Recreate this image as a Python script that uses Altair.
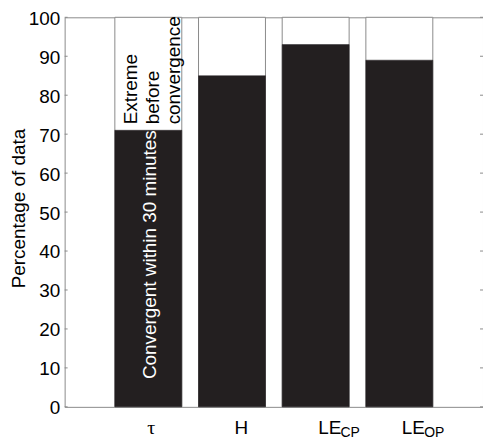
import altair as alt
import pandas as pd

# ---- data ----
categories = ["τ", "H", "LE", "LE"]
subscripts = ["", "", "CP", "OP"]
convergent_pct = [71, 85, 93, 89]
total_pct = [100, 100, 100, 100]
y_ticks = [0, 10, 20, 30, 40, 50, 60, 70, 80, 90, 100]
inside_text = ["Convergent within 30 minutes"]
extreme_lines = ["Extreme", "before", "convergence"]

GREY = "#8a8a8a"
BLACK = "#231f20"
SANS = "Liberation Sans"
FS = 19
W, H = 421, 392

df = pd.DataFrame({
    "idx": [1, 2, 3, 4],
    "cat": categories,
    "sub": subscripts,
    "value": convergent_pct,
    "top": total_pct,
})

xs = alt.Scale(domain=[0, 5], nice=False, zero=False)
ys = alt.Scale(domain=[0, 100], nice=False)

YAX = alt.Axis(
    values=y_ticks,
    title="Percentage of data",
    labelOverlap=False,
    titleX=-40,
    titleY=192,
)

base = alt.Chart(df).transform_calculate(
    x0="datum.idx - 0.4", x1="datum.idx + 0.4"
)

outline = base.mark_bar(fill="white", stroke=GREY, strokeWidth=1).encode(
    x=alt.X("x0:Q", scale=xs, axis=None),
    x2="x1:Q",
    y=alt.Y("top:Q", scale=ys, axis=YAX),
    y2=alt.datum(0),
)

filled = base.mark_bar(fill=BLACK, stroke=BLACK, strokeWidth=0.5).encode(
    x=alt.X("x0:Q", scale=xs, axis=None),
    x2="x1:Q",
    y=alt.Y("value:Q", scale=ys, axis=YAX),
    y2=alt.datum(0),
)

tick_df = pd.DataFrame({"t": y_ticks})
left_ticks = alt.Chart(tick_df).mark_rule(color=GREY, strokeWidth=1).encode(
    y=alt.Y("t:Q", scale=ys, axis=YAX), x=alt.value(0), x2=alt.value(3)
)
right_ticks = alt.Chart(tick_df).mark_rule(color=GREY, strokeWidth=1).encode(
    y=alt.Y("t:Q", scale=ys, axis=YAX), x=alt.value(W - 3), x2=alt.value(W)
)

# annotations inside first bar
first = df[df["idx"] == 1].copy()
first["inside"] = inside_text[0]
first["extreme"] = "\n".join(extreme_lines)
first["zero"] = 0

conv_text = alt.Chart(first).mark_text(
    angle=270, align="left", baseline="alphabetic", font=SANS, fontSize=FS,
    color="white", dx=28, dy=8,
).encode(
    x=alt.X("idx:Q", scale=xs, axis=None),
    y=alt.Y("zero:Q", scale=ys, axis=YAX),
    text="inside:N",
)

extreme_text = alt.Chart(first).mark_text(
    angle=270, align="left", baseline="alphabetic", font=SANS, fontSize=FS,
    color="black", dx=6, dy=-11, lineBreak="\n", lineHeight=21.5,
).encode(
    x=alt.X("idx:Q", scale=xs, axis=None),
    y=alt.Y("value:Q", scale=ys, axis=YAX),
    text="extreme:N",
)

# category labels below the axis (with subscripts)
tau_label = alt.Chart(df[df["idx"] == 1]).mark_text(
    align="left", baseline="alphabetic", font="Liberation Serif", fontSize=FS + 1,
    color="black", dx=-1,
).encode(x=alt.X("idx:Q", scale=xs, axis=None), y=alt.value(H + 27), text="cat:N")

main_labels = alt.Chart(df[df["idx"] > 1]).mark_text(
    align="left", baseline="alphabetic", font=SANS, fontSize=FS,
    color="black", dx=2.5,
).encode(x=alt.X("idx:Q", scale=xs, axis=None), y=alt.value(H + 27), text="cat:N")

sub_labels = alt.Chart(df[df["sub"] != ""]).mark_text(
    align="left", baseline="alphabetic", font=SANS, fontSize=14,
    color="black", dx=25,
).encode(x=alt.X("idx:Q", scale=xs, axis=None), y=alt.value(H + 30.5), text="sub:N")

chart = alt.layer(
    outline, filled, left_ticks, right_ticks, conv_text, extreme_text,
    tau_label, main_labels, sub_labels,
).properties(
    width=W,
    height=H,
    autosize=alt.AutoSizeParams(type="none"),
    padding={"left": 57, "top": 8, "right": 0, "bottom": 33},
).configure_view(
    stroke=GREY, strokeWidth=1
).configure_axisY(
    labelFont=SANS,
    titleFont=SANS,
    labelFontSize=FS,
    titleFontSize=FS,
    labelColor="black",
    titleColor="black",
    titleFontWeight="normal",
    domain=False,
    ticks=False,
    tickSize=0,
    grid=False,
    labelOverlap=False,
    labelPadding=5,
    labelOffset=1,
    titleAngle=270,
    titleAlign="center",
    titleBaseline="alphabetic",
)

chart.save("out.html", embed_options={"renderer": "svg", "actions": False})
